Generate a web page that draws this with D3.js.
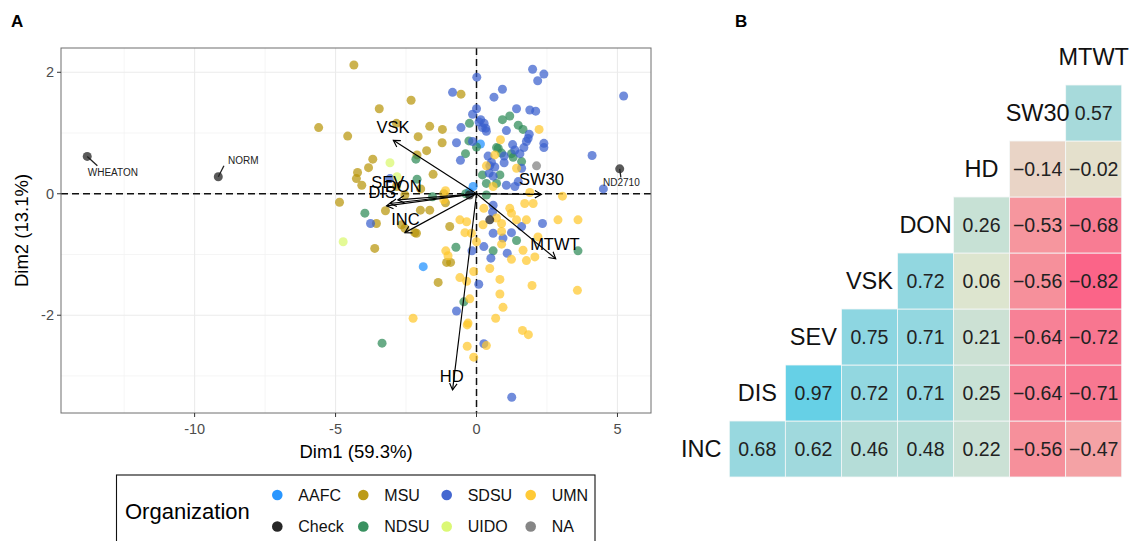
<!DOCTYPE html>
<html><head><meta charset="utf-8">
<script src="https://cdn.jsdelivr.net/npm/d3@7"></script>
<style>
body{margin:0;background:#fff;}
svg{display:block;font-family:"Liberation Sans",Arial,Helvetica,sans-serif;}
</style></head>
<body><svg id="chart" width="1132" height="541"></svg>
<script>
// ---------- DATA ----------
const orgNames = ["AAFC","Check","MSU","NDSU","SDSU","UIDO","UMN","NA"];
const ptsAAFC = [[0.14,0.82],[-1.89,-1.20],[-0.26,0.03],[-0.12,0.12]];
const ptsCheck = [[-13.81,0.615],[-9.16,0.28],[5.08,0.41],[0.47,-0.43],[-0.25,-0.02]];
const ptsMSU = [[-4.35,2.12],[-5.60,1.09],[-4.57,0.95],[-3.45,1.40],[-3.68,0.57],[-3.83,0.43],[-4.22,0.35],[-4.26,0.25],[-4.07,0.14],[-4.86,-0.14],[-3.55,-0.49],[-3.61,-0.90],[-0.55,1.64],[-2.32,1.54],[-1.66,1.11],[-1.21,1.06],[-2.07,0.94],[-1.22,0.84],[-1.77,0.71],[-1.16,0.0],[-1.10,-0.15],[-1.98,0.08],[-1.54,0.32],[-2.11,0.64],[-3.23,-0.28],[-2.54,-0.02],[-2.84,0.12],[-2.66,-0.51],[-2.13,-0.65],[-1.99,-0.27],[-1.66,-0.27],[-0.95,-0.54],[-1.06,-1.13],[-0.92,-1.13],[-1.36,-1.46],[-2.84,1.16],[-2.54,-0.57],[-2.19,-0.64]];
const ptsNDSU = [[-3.96,-0.32],[1.18,1.28],[0.92,1.22],[-0.25,1.16],[1.48,1.13],[1.65,1.06],[-0.27,0.87],[0.0,0.77],[-0.39,0.66],[0.77,0.75],[0.89,0.67],[1.24,0.66],[1.30,0.60],[0.21,0.31],[0.83,0.31],[0.71,0.17],[0.35,0.17],[-0.38,0.0],[-1.56,-0.05],[-2.11,0.24],[1.42,-0.77],[3.60,-0.94],[0.59,-0.94],[-0.73,-0.88],[-0.45,-1.78],[-3.35,-2.46],[-2.15,0.57],[1.60,0.53],[0.35,-0.02],[0.71,0.76]];
const ptsSDSU = [[-3.76,-0.49],[0.01,1.92],[1.99,2.05],[2.39,1.97],[2.17,1.86],[-0.85,1.67],[0.92,1.72],[0.62,1.59],[5.22,1.61],[0.0,1.40],[-0.14,1.31],[1.42,1.40],[1.89,1.38],[2.10,1.36],[0.15,1.22],[0.27,1.16],[0.21,1.09],[0.33,1.08],[-0.55,1.09],[1.06,1.04],[1.87,0.98],[1.83,0.91],[1.77,0.86],[1.68,0.76],[2.39,0.83],[2.39,0.76],[-0.71,0.84],[-0.14,0.86],[-0.57,0.55],[0.98,0.62],[1.54,0.66],[0.41,0.62],[0.98,0.51],[0.47,0.46],[0.65,0.44],[1.60,0.42],[4.10,0.63],[4.50,0.08],[0.45,0.34],[0.59,0.29],[1.06,0.14],[1.36,0.12],[1.48,0.20],[0.57,-0.30],[0.59,-0.19],[1.60,-0.54],[2.34,-0.49],[0.59,-0.65],[0.94,-0.73],[1.24,-0.64],[0.26,-0.87],[0.51,-1.06],[1.09,-0.98],[-0.16,-0.94],[0.08,-1.49],[-0.71,-1.93],[0.26,-2.47],[1.25,-3.35],[-3.07,0.25],[1.28,0.81],[1.36,0.72],[0.53,0.52],[0.09,1.18],[0.35,1.03]];
const ptsUIDO = [[-4.73,-0.79],[-3.07,0.51],[-2.82,0.28]];
const ptsUMN = [[2.22,1.06],[0.85,0.89],[0.35,0.46],[1.42,0.42],[0.65,0.64],[-0.59,-0.43],[-0.35,-0.46],[-0.41,-0.64],[-0.18,-0.65],[0.26,-0.24],[0.23,-0.51],[0.71,-0.40],[0.89,-0.49],[1.18,-0.24],[1.24,-0.32],[1.71,-0.16],[2.01,-0.16],[1.42,-0.43],[1.77,-0.43],[2.89,-0.43],[3.60,-0.43],[3.05,-0.04],[1.89,0.02],[0.59,0.12],[0.89,-0.62],[0.89,-0.83],[1.65,-0.93],[2.07,-1.04],[1.77,-1.10],[2.18,-0.71],[0.0,-0.79],[-1.09,-0.94],[-1.01,-1.02],[1.24,-1.08],[0.47,-1.23],[-0.10,-1.28],[-0.59,-1.38],[-0.35,-1.44],[0.83,-1.41],[1.97,-1.51],[3.58,-1.59],[0.83,-1.65],[-0.24,-1.73],[0.94,-1.87],[-2.25,-2.05],[0.68,-2.05],[-0.30,-2.13],[-0.33,-2.16],[1.63,-2.25],[1.84,-2.32],[-0.33,-2.51],[0.35,-2.50],[-0.10,-2.69],[-1.16,-0.10],[-1.10,0.05]];
const ptsNA = [[2.13,0.46]];

const checkLabels = ["WHEATON","NORM","ND2710"];
const checkLabelX = [-12.90,-8.27,5.14];
const checkLabelY = [0.35,0.54,0.19];
const checkLeadX = [-13.45,-8.96,5.12];
const checkLeadY = [0.46,0.46,0.27];

const loadNames = ["VSK","SW30","MTWT","HD","INC","DIS","SEV","DON"];
const loadX = [-2.95,2.30,2.81,-0.85,-2.54,-3.19,-3.07,-2.79];
const loadY = [0.88,-0.01,-1.07,-3.23,-0.64,-0.20,-0.16,-0.10];
const loadLabX = [-2.96,2.30,2.78,-0.88,-2.52,-3.34,-3.15,-2.60];
const loadLabY = [1.10,0.24,-0.83,-3.00,-0.42,0.03,0.20,0.12];

const xTicks = [-10,-5,0,5];
const yTicks = [-2,0,2];

const heatVars = ["INC","DIS","SEV","VSK","DON","HD","SW30","MTWT"];
const corrINC  = [0.68,0.62,0.46,0.48,0.22,-0.56,-0.47];
const corrDIS  = [0.97,0.72,0.71,0.25,-0.64,-0.71];
const corrSEV  = [0.75,0.71,0.21,-0.64,-0.72];
const corrVSK  = [0.72,0.06,-0.56,-0.82];
const corrDON  = [0.26,-0.53,-0.68];
const corrHD   = [-0.14,-0.02];
const corrSW30 = [0.57];

// ---------- DRAW ----------
const svg = d3.select("#chart");
const orgColor = d3.scaleOrdinal().domain(orgNames)
  .range(["#1E90FF","#1A1A1A","#B8960B","#2E8B57","#3A5FCD","#D9F86E","#FFC72C","#808080"]);

const L=61,R=651,T=48,B=413;
const x = d3.scaleLinear().domain([-14.74,6.19]).range([L,R]);
const y = d3.scaleLinear().domain([-3.61,2.40]).range([B,T]);

const plot = svg.append("g");
// grid
const minorX = [-12.5,-7.5,-2.5,2.5], minorY=[-3,-1,1];
plot.selectAll(".mgx").data(minorX).enter().append("line")
  .attr("x1",d=>x(d)).attr("x2",d=>x(d)).attr("y1",T).attr("y2",B).attr("stroke","#F3F3F3").attr("stroke-width",0.8);
plot.selectAll(".mgy").data(minorY).enter().append("line")
  .attr("y1",d=>y(d)).attr("y2",d=>y(d)).attr("x1",L).attr("x2",R).attr("stroke","#F3F3F3").attr("stroke-width",0.8);
plot.selectAll(".gx").data(xTicks).enter().append("line")
  .attr("x1",d=>x(d)).attr("x2",d=>x(d)).attr("y1",T).attr("y2",B).attr("stroke","#EBEBEB").attr("stroke-width",1.1);
plot.selectAll(".gy").data(yTicks).enter().append("line")
  .attr("y1",d=>y(d)).attr("y2",d=>y(d)).attr("x1",L).attr("x2",R).attr("stroke","#EBEBEB").attr("stroke-width",1.1);

// dashed reference lines
plot.append("line").attr("x1",L).attr("x2",R).attr("y1",y(0)).attr("y2",y(0))
  .attr("stroke","#111").attr("stroke-width",1.5).attr("stroke-dasharray","7,4");
plot.append("line").attr("x1",x(0)).attr("x2",x(0)).attr("y1",T).attr("y2",B)
  .attr("stroke","#111").attr("stroke-width",1.5).attr("stroke-dasharray","7,4");

// points
const groups = [["AAFC",ptsAAFC],["MSU",ptsMSU],["NDSU",ptsNDSU],["SDSU",ptsSDSU],["UIDO",ptsUIDO],["UMN",ptsUMN],["NA",ptsNA],["Check",ptsCheck]];
groups.forEach(([org,pts])=>{
  plot.selectAll(null).data(pts).enter().append("circle")
    .attr("cx",d=>x(d[0])).attr("cy",d=>y(d[1])).attr("r",4.5)
    .attr("fill",orgColor(org)).attr("fill-opacity",org==="Check"?0.72:0.72);
});

// check labels
checkLabels.forEach((lab,i)=>{
  plot.append("line").attr("x1",x(ptsCheck[i][0])).attr("y1",y(ptsCheck[i][1]))
    .attr("x2",x(checkLeadX[i])).attr("y2",y(checkLeadY[i])).attr("stroke","#222").attr("stroke-width",1.3);
  plot.append("text").attr("x",x(checkLabelX[i])).attr("y",y(checkLabelY[i]))
    .attr("text-anchor","middle").attr("dominant-baseline","central")
    .attr("font-size",10).attr("fill","#222").text(lab);
});

// loading arrows
loadNames.forEach((n,i)=>{
  const x0=x(0), y0=y(0), x1=x(loadX[i]), y1=y(loadY[i]);
  const ang=Math.atan2(y1-y0,x1-x0), len=7.5, a=Math.PI/6;
  const g=plot.append("g").attr("stroke","#000").attr("stroke-width",1.15).attr("fill","none");
  g.append("line").attr("x1",x0).attr("y1",y0).attr("x2",x1).attr("y2",y1);
  g.append("path").attr("d",
    `M${x1-len*Math.cos(ang-a)},${y1-len*Math.sin(ang-a)}L${x1},${y1}L${x1-len*Math.cos(ang+a)},${y1-len*Math.sin(ang+a)}`);
});
loadNames.forEach((n,i)=>{
  plot.append("text").attr("x",x(loadLabX[i])).attr("y",y(loadLabY[i]))
    .attr("text-anchor","middle").attr("dominant-baseline","central")
    .attr("font-size",16.5).attr("fill","#000").text(n);
});

// panel border
plot.append("rect").attr("x",L).attr("y",T).attr("width",R-L).attr("height",B-T)
  .attr("fill","none").attr("stroke","#6E6E6E").attr("stroke-width",1);

// axes ticks
plot.selectAll(".tx").data(xTicks).enter().append("line")
  .attr("x1",d=>x(d)).attr("x2",d=>x(d)).attr("y1",B).attr("y2",B+4).attr("stroke","#333");
plot.selectAll(".txl").data(xTicks).enter().append("text")
  .attr("x",d=>x(d)).attr("y",B+16).attr("text-anchor","middle").attr("dominant-baseline","central")
  .attr("font-size",14.5).attr("fill","#4D4D4D").text(d=>String(d));
plot.selectAll(".ty").data(yTicks).enter().append("line")
  .attr("y1",d=>y(d)).attr("y2",d=>y(d)).attr("x1",L-4).attr("x2",L).attr("stroke","#333");
plot.selectAll(".tyl").data(yTicks).enter().append("text")
  .attr("x",L-7).attr("y",d=>y(d)).attr("text-anchor","end").attr("dominant-baseline","central")
  .attr("font-size",14.5).attr("fill","#4D4D4D").text(d=>String(d));

svg.append("text").attr("x",(L+R)/2).attr("y",451).attr("text-anchor","middle").attr("dominant-baseline","central")
  .attr("font-size",18.5).attr("fill","#000").text("Dim1 (59.3%)");
svg.append("text").attr("transform",`translate(21,${(T+B)/2}) rotate(-90)`).attr("text-anchor","middle")
  .attr("dominant-baseline","central").attr("font-size",18.5).attr("fill","#000").text("Dim2 (13.1%)");

svg.append("text").attr("x",11).attr("y",27).attr("font-size",17).attr("font-weight","bold").text("A");
svg.append("text").attr("x",735).attr("y",27).attr("font-size",17).attr("font-weight","bold").text("B");

// legend
const lg = svg.append("g");
lg.append("rect").attr("x",116.5).attr("y",475).attr("width",478.5).attr("height",90)
  .attr("fill","#fff").attr("stroke","#111").attr("stroke-width",1.1);
lg.append("text").attr("x",125).attr("y",511.5).attr("dominant-baseline","central")
  .attr("font-size",22).attr("fill","#000").text("Organization");
const colX=[277.3,363.3,446.7,530.7], rowY=[495,526.5];
orgNames.forEach((o,i)=>{
  const c=Math.floor(i/2), r=i%2;
  lg.append("circle").attr("cx",colX[c]).attr("cy",rowY[r]).attr("r",5.3).attr("fill",orgColor(o)).attr("fill-opacity",0.95);
  lg.append("text").attr("x",colX[c]+21).attr("y",rowY[r]).attr("dominant-baseline","central")
    .attr("font-size",16).attr("fill","#111").text(o);
});

// heatmap
const corrRows = [corrINC,corrDIS,corrSEV,corrVSK,corrDON,corrHD,corrSW30];
const cw = 56.06;
const hx = d3.scaleBand().domain(heatVars).range([729.3-cw, 729.3+7*cw]);
const hy = d3.scaleBand().domain(heatVars).range([477, 477-8*56]);
const heatColor = d3.scaleLinear()
  .domain([-1,-0.82,-0.71,-0.64,-0.55,-0.47,-0.14,0,0.06,0.23,0.47,0.6,0.72,0.97,1])
  .range(["#FF4E80","#FB6488","#F87891","#F78196","#F6929C","#F4A2A5","#E9D4C6","#E3E2CD","#DDE5CF","#CAE1D5","#B4DDD8","#A3D9DC","#92D7E0","#66D0E6","#60CFE7"]);
const cells=[];
corrRows.forEach((row,i)=>row.forEach((v,k)=>cells.push({i, j:i+1+k, v})));
const hg = svg.append("g");
hg.selectAll("rect").data(cells).enter().append("rect")
  .attr("x",d=>hx(heatVars[d.j])).attr("y",d=>hy(heatVars[d.i]))
  .attr("width",hx.bandwidth()).attr("height",hy.bandwidth())
  .attr("fill",d=>heatColor(d.v)).attr("stroke","#F4F8F8").attr("stroke-width",0.8);
const fmt = v => (v<0?"\u2212":"")+Math.abs(v).toFixed(2);
hg.selectAll(".val").data(cells).enter().append("text")
  .attr("x",d=>hx(heatVars[d.j])+hx.bandwidth()/2).attr("y",d=>hy(heatVars[d.i])+hy.bandwidth()/2)
  .attr("text-anchor","middle").attr("dominant-baseline","central")
  .attr("font-size",19.5).attr("fill","#222").text(d=>fmt(d.v));
hg.selectAll(".lab").data(heatVars).enter().append("text")
  .attr("x",d=>hx(d)+hx.bandwidth()/2).attr("y",d=>hy(d)+hy.bandwidth()/2)
  .attr("text-anchor","middle").attr("dominant-baseline","central")
  .attr("font-size",23.5).attr("fill","#111").text(d=>d);
</script></body></html>
